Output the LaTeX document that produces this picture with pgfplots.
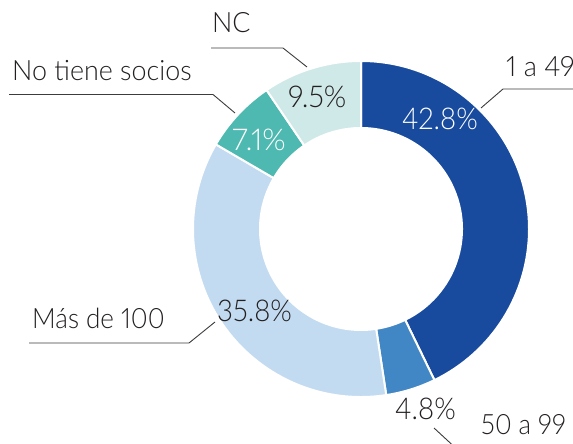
\documentclass[border=0pt]{standalone}
\usepackage{pgfplots}
\usepackage{pgfplotstable}
\pgfplotsset{compat=1.18}
\usepackage{fontspec}
\setmainfont{Lato Light}[Numbers=Proportional]
\definecolor{cA}{RGB}{24,74,158}
\definecolor{cB}{RGB}{65,135,198}
\definecolor{cC}{RGB}{195,219,240}
\definecolor{cD}{RGB}{77,185,176}
\definecolor{cE}{RGB}{207,233,232}
\definecolor{txt}{RGB}{35,31,32}
\definecolor{ln}{RGB}{60,60,60}

\pgfplotstableread{
label value
{1 a 49} 42.8
{50 a 99} 4.8
{Más de 100} 35.8
{No tiene socios} 7.1
NC 9.5
}\datatable

\pgfplotstablegetelem{0}{value}\of\datatable \let\vA\pgfplotsretval
\pgfplotstablegetelem{1}{value}\of\datatable \let\vB\pgfplotsretval
\pgfplotstablegetelem{2}{value}\of\datatable \let\vC\pgfplotsretval
\pgfplotstablegetelem{3}{value}\of\datatable \let\vD\pgfplotsretval
\pgfplotstablegetelem{4}{value}\of\datatable \let\vE\pgfplotsretval

\pgfmathsetmacro\aA{90}
\pgfmathsetmacro\aB{\aA-3.6*\vA}
\pgfmathsetmacro\aC{\aB-3.6*\vB}
\pgfmathsetmacro\aD{\aC-3.6*\vC}
\pgfmathsetmacro\aE{\aD-3.6*\vD}
\pgfmathsetmacro\aF{\aE-3.6*\vE}

\newcommand{\seg}[3]{%
  \fill[#1,draw=white,line width=2pt,line join=miter]
    (axis cs:361,215) ++(#2:168pt) arc[start angle=#2,end angle=#3,radius=168pt]
    -- ++(#3:-67pt) arc[start angle=#3,end angle=#2,radius=101pt] -- cycle;}
\newcommand{\pct}[1]{\pgfmathprintnumber[fixed,precision=1,fixed zerofill,assume math mode=true]{#1}\%}
\newcommand{\sq}[2]{\scalebox{#1}[1]{#2}}

\begin{document}
\begin{tikzpicture}
\useasboundingbox (0,0) rectangle (573pt,444pt);
\clip (0,0) rectangle (573pt,444pt);
\begin{axis}[
  at={(0,0)}, anchor=origin,
  scale only axis, width=573pt, height=444pt,
  xmin=0, xmax=573, ymin=0, ymax=444,
  hide axis, clip=false,
]
\seg{cA}{\aA}{\aB}
\seg{cB}{\aB}{\aC}
\seg{cC}{\aC}{\aD}
\seg{cD}{\aD}{\aE}
\seg{cE}{\aE}{\aF}

% leader lines
\draw[ln,line width=0.9pt] (axis cs:9,349.5) -- (axis cs:213,349.5) -- (axis cs:235,331);
\draw[ln,line width=0.9pt] (axis cs:211,396) -- (axis cs:283,396) -- (axis cs:307,377);
\draw[ln,line width=0.9pt] (axis cs:481,336) -- (axis cs:503,355) -- (axis cs:580,355);
\draw[ln,line width=0.9pt] (axis cs:29,101) -- (axis cs:189,101) -- (axis cs:215,122);
\draw[ln,line width=0.9pt] (axis cs:434,16) -- (axis cs:460,-8);

% category labels
\begin{scope}[every node/.style={inner sep=0pt,anchor=base west,text=txt,font=\fontsize{28}{30}\selectfont}]
\node at (axis cs:12,363) {\sq{0.96}{No tiene socios}};
\node at (axis cs:212,411) {\sq{0.96}{NC}};
\node at (axis cs:506,367) {\sq{0.97}{1 a 49}};
\node at (axis cs:32,115) {\sq{0.93}{Más de 100}};
\node at (axis cs:481,9) {\sq{0.92}{50 a 99}};
\end{scope}
% percentage labels
\begin{scope}[every node/.style={inner sep=0pt,anchor=base west,font=\fontsize{30}{32}\selectfont}]
\node[text=white] at (axis cs:402,314) {\sq{0.92}{\pct{\vA}}};
\node[text=txt] at (axis cs:395,24) {\sq{0.92}{\pct{\vB}}};
\node[text=txt] at (axis cs:217,122) {\sq{0.92}{\pct{\vC}}};
\node[text=white] at (axis cs:232,293) {\sq{1.0}{\pct{\vD}}};
\node[text=txt] at (axis cs:288,336) {\sq{0.96}{\pct{\vE}}};
\end{scope}
\end{axis}
\end{tikzpicture}
\end{document}
